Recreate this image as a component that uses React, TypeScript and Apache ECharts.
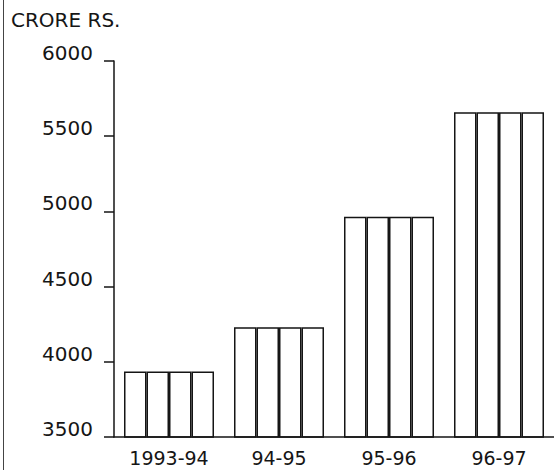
import React, { useEffect, useRef } from "react";
import * as echarts from "echarts";

const categories = ["1993-94", "94-95", "95-96", "96-97"];
const values = [3935, 4230, 4965, 5660];
const yMin = 3500;
const yMax = 6000;
const yStep = 500;
const unitLabel = "CRORE RS.";
const stripeCount = 4;

const FONT = "DejaVu Sans";
const INK = "#151515";

export default function App() {
  const ref = useRef<HTMLDivElement>(null);
  useEffect(() => {
    if (!ref.current) return;
    const chart = echarts.init(ref.current, null, { renderer: "svg" });
    const series = Array.from({ length: stripeCount }, (_, i) => ({
      type: "bar" as const,
      name: "s" + i,
      data: values,
      barWidth: 22.5,
      barGap: "0%",
      itemStyle: { color: "#ffffff", borderColor: INK, borderWidth: 1.5 },
      z: 1,
    }));
    chart.setOption({
      animation: false,
      backgroundColor: "#ffffff",
      grid: { left: 114, top: 61, width: 448, height: 376 },
      xAxis: {
        type: "category",
        data: categories,
        boundaryGap: true,
        axisLine: { show: true, lineStyle: { color: INK, width: 1.5 } },
        axisTick: { show: false },
        axisLabel: {
          margin: 11,
          color: INK,
          fontFamily: FONT,
          fontSize: 19,
        },
        z: 5,
      },
      yAxis: {
        type: "value",
        min: yMin,
        max: yMax,
        interval: yStep,
        splitLine: { show: false },
        axisLine: { show: true, lineStyle: { color: INK, width: 1.5 } },
        axisTick: { show: true, length: 10, lineStyle: { color: INK, width: 1.5 } },
        axisLabel: {
          margin: 21,
          color: INK,
          fontFamily: FONT,
          fontSize: 20,
          verticalAlign: "bottom",
          lineHeight: 16,
          formatter: (v: number) => String(v),
        },
        z: 5,
      },
      graphic: [
        {
          type: "line",
          shape: { x1: 3.5, y1: 0, x2: 3.5, y2: 470 },
          style: { stroke: "#444", lineWidth: 1 },
        },
        {
          type: "text",
          x: 11,
          y: 10,
          style: {
            text: unitLabel,
            font: `20px "${FONT}"`,
            fill: INK,
            textVerticalAlign: "top",
          },
        },
      ],
      series,
    });
    return () => chart.dispose();
  }, []);
  return (
    <div
      ref={ref}
      style={{ position: "absolute", left: 0, top: 0, width: 554, height: 470 }}
    />
  );
}
